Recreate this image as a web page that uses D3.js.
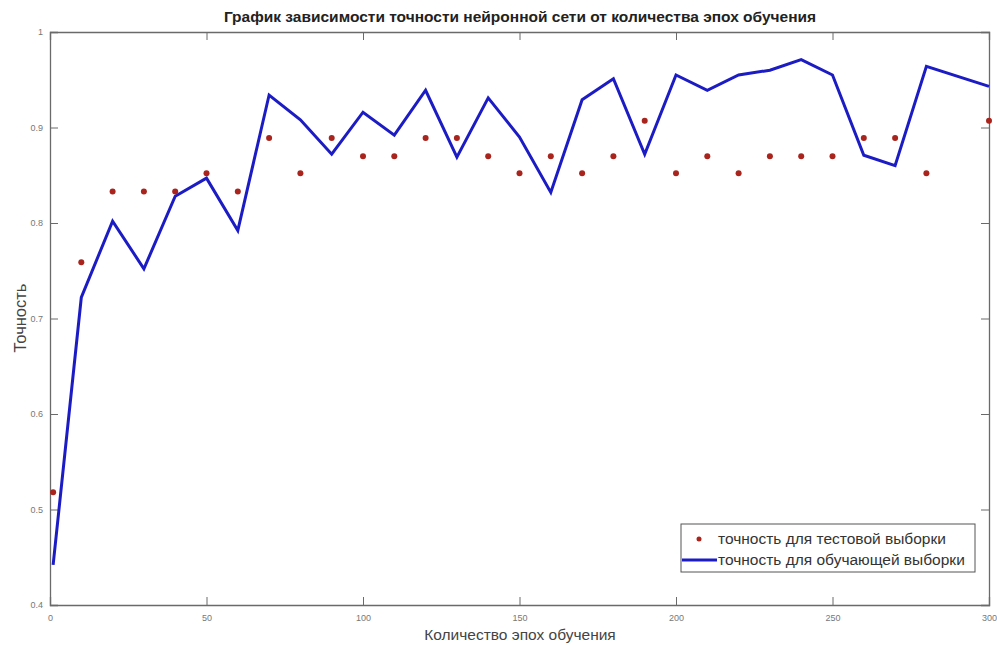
<!DOCTYPE html>
<html>
<head>
<meta charset="utf-8">
<script src="https://cdn.jsdelivr.net/npm/d3@7"></script>
<style>
  body { margin: 0; background: #fff; }
  svg { display: block; }
</style>
</head>
<body>
<div class="chart"></div>
<script>
// эпохи обучения
var epochs = [1, 10, 20, 30, 40, 50, 60, 70, 80, 90, 100, 110, 120, 130, 140, 150,
              160, 170, 180, 190, 200, 210, 220, 230, 240, 250, 260, 270, 280, 300];
// точность для тестовой выборки
var testAcc = [0.518, 0.759, 0.833, 0.833, 0.833, 0.852, 0.833, 0.889, 0.852, 0.889,
               0.870, 0.870, 0.889, 0.889, 0.870, 0.852, 0.870, 0.852, 0.870, 0.907,
               0.852, 0.870, 0.852, 0.870, 0.870, 0.870, 0.889, 0.889, 0.852, 0.907];
// точность для обучающей выборки
var trainAcc = [0.442, 0.722, 0.802, 0.752, 0.828, 0.847, 0.792, 0.934, 0.908, 0.872,
                0.916, 0.892, 0.939, 0.869, 0.931, 0.890, 0.832, 0.929, 0.951, 0.872,
                0.955, 0.939, 0.955, 0.960, 0.971, 0.955, 0.871, 0.860, 0.964, 0.943];

var xTicks = [0, 50, 100, 150, 200, 250, 300];
var yTicks = [0.4, 0.5, 0.6, 0.7, 0.8, 0.9, 1];

var title = "График зависимости точности нейронной сети от количества эпох обучения";
var xLabel = "Количество эпох обучения";
var yLabel = "Точность";
var legendNames = ["точность для тестовой выборки", "точность для обучающей выборки"];

var W = 997, H = 645;
var pLeft = 50, pRight = 989, pTop = 32, pBottom = 605;

var svg = d3.select(".chart").append("svg")
    .attr("width", W)
    .attr("height", H);

var x = d3.scaleLinear().domain([0, 300]).range([pLeft, pRight]);
var y = d3.scaleLinear().domain([0.4, 1]).range([pBottom, pTop]);

var axisColor = "#6a6a6a";
var font = "Liberation Sans, Arial, sans-serif";

// оси (засечки внутрь, как в MATLAB)
var gx = svg.append("g").attr("transform", "translate(0," + pBottom + ")")
    .call(d3.axisBottom(x).tickValues(xTicks).tickSize(-8).tickPadding(10).tickFormat(d3.format("d")));
var gxTop = svg.append("g").attr("transform", "translate(0," + pTop + ")")
    .call(d3.axisTop(x).tickValues(xTicks).tickSize(-8).tickFormat(""));
var gy = svg.append("g").attr("transform", "translate(" + pLeft + ",0)")
    .call(d3.axisLeft(y).tickValues(yTicks).tickSize(-8).tickPadding(7)
      .tickFormat(function(d) { return d === 1 ? "1" : d3.format(".1f")(d); }));
var gyRight = svg.append("g").attr("transform", "translate(" + pRight + ",0)")
    .call(d3.axisRight(y).tickValues(yTicks).tickSize(-8).tickFormat(""));

[gx, gxTop, gy, gyRight].forEach(function(g) {
  g.select(".domain").attr("stroke", axisColor).attr("stroke-width", 1.3);
  g.selectAll(".tick line").attr("stroke", axisColor).attr("stroke-width", 1);
  g.selectAll(".tick text").attr("fill", "#777").style("font-size", "9px").style("font-family", font);
});

// линия обучающей выборки
var line = d3.line()
    .x(function(d, i) { return x(epochs[i]); })
    .y(function(d) { return y(d); });

svg.append("path")
    .datum(trainAcc)
    .attr("d", line)
    .attr("fill", "none")
    .attr("stroke", "#1c1cc4")
    .attr("stroke-width", 3)
    .attr("stroke-linejoin", "miter");

// точки тестовой выборки
svg.selectAll(".dot")
    .data(testAcc)
    .enter().append("circle")
    .attr("class", "dot")
    .attr("cx", function(d, i) { return x(epochs[i]); })
    .attr("cy", function(d) { return y(d); })
    .attr("r", 3)
    .attr("fill", "#a8241c");

// заголовок и подписи осей
svg.append("text")
    .attr("x", 520).attr("y", 22)
    .attr("text-anchor", "middle")
    .style("font-family", font)
    .style("font-size", "15.5px")
    .style("font-weight", "bold")
    .attr("fill", "#222")
    .text(title);

svg.append("text")
    .attr("x", 520).attr("y", 640)
    .attr("text-anchor", "middle")
    .style("font-family", font)
    .style("font-size", "15.5px")
    .attr("fill", "#444")
    .text(xLabel);

svg.append("text")
    .attr("transform", "translate(26,318) rotate(-90)")
    .attr("text-anchor", "middle")
    .style("font-family", font)
    .style("font-size", "16.5px")
    .attr("fill", "#444")
    .text(yLabel);

// легенда
var lg = svg.append("g");
lg.append("rect")
    .attr("x", 681).attr("y", 524)
    .attr("width", 294).attr("height", 48)
    .attr("fill", "#fff")
    .attr("stroke", "#555")
    .attr("stroke-width", 1);

lg.append("circle")
    .attr("cx", 699).attr("cy", 539).attr("r", 2.5)
    .attr("fill", "#a8241c");
lg.append("line")
    .attr("x1", 682).attr("x2", 717)
    .attr("y1", 560).attr("y2", 560)
    .attr("stroke", "#1c1cc4").attr("stroke-width", 3);

legendNames.forEach(function(name, i) {
  lg.append("text")
    .attr("x", 718).attr("y", 544 + i * 21)
    .style("font-family", font)
    .style("font-size", "15.5px")
    .attr("fill", "#333")
    .text(name);
});
</script>
</body>
</html>
